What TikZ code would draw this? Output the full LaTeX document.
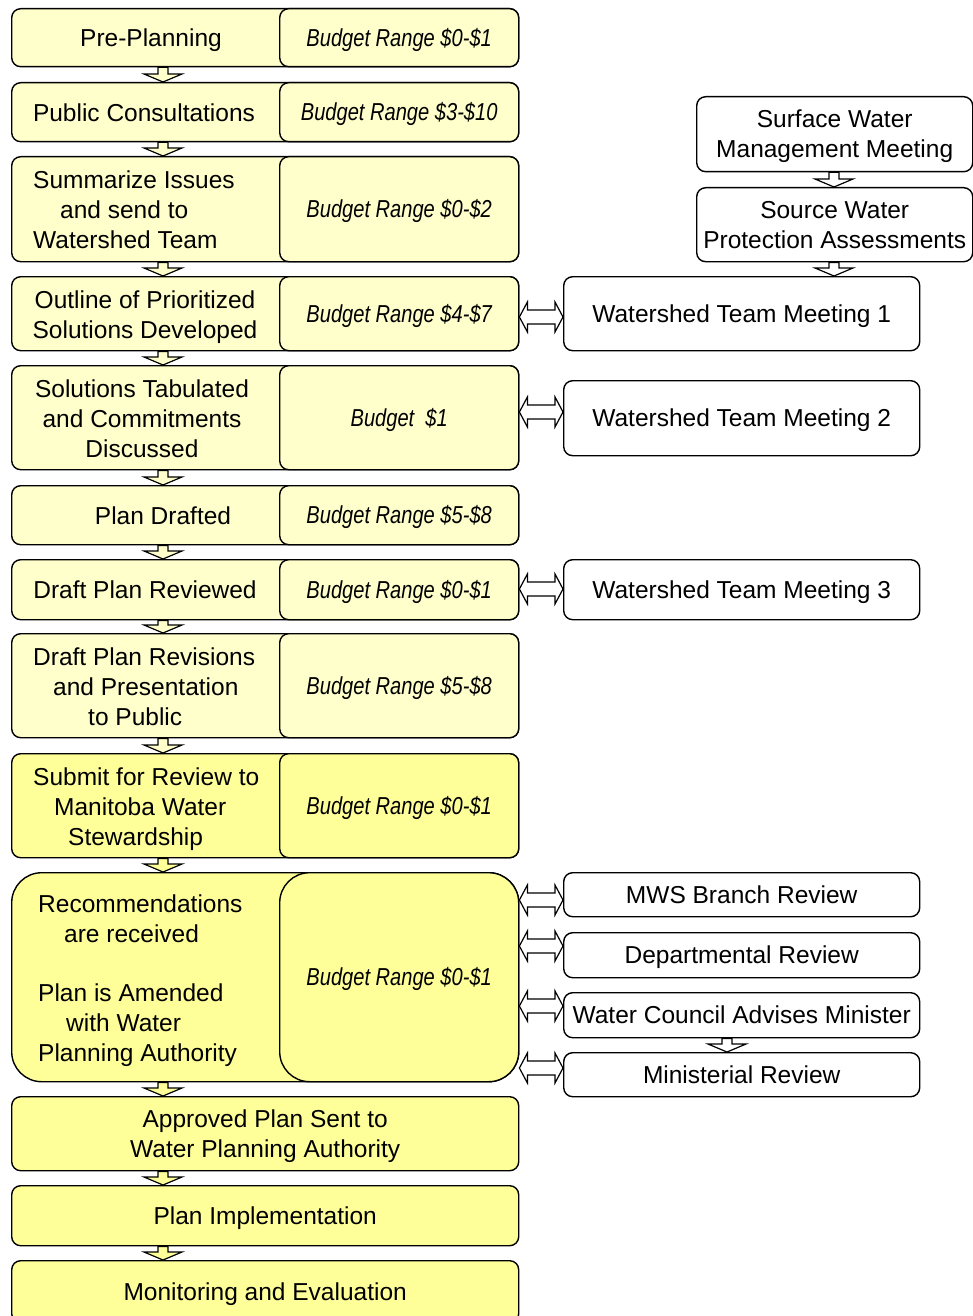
\documentclass[tikz,border=0pt]{standalone}
\usepackage{fontspec}
\setmainfont{Liberation Sans}
\newfontfamily\budgetfont[FakeStretch=0.82]{Liberation Sans}
\usetikzlibrary{calc}
\definecolor{pale}{RGB}{255,255,204}
\definecolor{bright}{RGB}{255,255,153}
\newcommand\dgmfont{\fontsize{24.5pt}{30pt}\selectfont}
\newcommand\dgmbudget{\budgetfont\itshape\fontsize{24.5pt}{30pt}\selectfont}
% text blocks whose cap height is centred on the node centre
\newcommand\ctext[1]{\begin{tabular}{@{}c@{}}\rule{0pt}{26.5pt}#1\end{tabular}}
\newcommand\ltext[1]{\begin{tabular}{@{}l@{}}\rule{0pt}{26.5pt}#1\end{tabular}}
% vertical block arrow: fill, source, target, x
\newcommand\varr[4]{%
  \path[arrowst, fill=#1] let \p1=(#2.south), \p2=(#3.north) in
   ({#4pt-5pt},\y1) -- ({#4pt+5pt},\y1) -- ({#4pt+5pt},{\y2+8pt}) -- ({#4pt+19pt},{\y2+8pt})
   -- ({#4pt},\y2) -- ({#4pt-19pt},{\y2+8pt}) -- ({#4pt-5pt},{\y2+8pt}) -- cycle;}
% horizontal double block arrow: source, target, y
\newcommand\harr[3]{%
  \path[arrowst, fill=white] let \p1=(#1.east), \p2=(#2.west) in
   (\x1,{#3pt}) -- ({\x1+8pt},{#3pt+15pt}) -- ({\x1+8pt},{#3pt+7pt}) -- ({\x2-8pt},{#3pt+7pt})
   -- ({\x2-8pt},{#3pt+15pt}) -- (\x2,{#3pt}) -- ({\x2-8pt},{#3pt-15pt}) -- ({\x2-8pt},{#3pt-7pt})
   -- ({\x1+8pt},{#3pt-7pt}) -- ({\x1+8pt},{#3pt-15pt}) -- cycle;}
\begin{document}
\begin{tikzpicture}[x=1pt,y=1pt,
  box/.style={draw=black, line width=1.4pt, rounded corners=9pt, inner sep=0pt,
     anchor=north west, font=\dgmfont},
  rowbox/.style={box, minimum width=507pt},
  budgetbox/.style={box, minimum width=239pt, font=\dgmbudget},
  rightbox/.style={box, fill=white, minimum width=356pt},
  txt/.style={inner sep=0pt, font=\dgmfont},
  ltxt/.style={txt, anchor=west},
  arrowst/.style={draw=black, line width=1.2pt, line join=miter}]
\useasboundingbox (0,0) rectangle (973,-1316);
\clip (0,0) rectangle (973,-1316);
% left column
\node[rowbox, fill=pale, minimum height=58pt] (r1) at (11,-8) {};
\node[budgetbox, fill=pale, minimum height=58pt] (b1) at (279,-8) {\ctext{Budget Range \$0-\$1}};
\node[txt] (t1) at (151,-38) {\ctext{Pre-Planning}};

\node[rowbox, fill=pale, minimum height=59pt] (r2) at (11,-82) {};
\node[budgetbox, fill=pale, minimum height=59pt] (b2) at (279,-82) {\ctext{Budget Range \$3-\$10}};
\node[txt] (t2) at (144,-113) {\ctext{Public Consultations}};

\node[rowbox, fill=pale, minimum height=105pt] (r3) at (11,-156) {};
\node[budgetbox, fill=pale, minimum height=105pt] (b3) at (279,-156) {\ctext{Budget Range \$0-\$2}};
\node[ltxt] (t3) at (33,-210) {\ltext{Summarize Issues\\\hspace*{27pt}and send to\\Watershed Team}};

\node[rowbox, fill=pale, minimum height=74pt] (r4) at (11,-276) {};
\node[budgetbox, fill=pale, minimum height=74pt] (b4) at (279,-276) {\ctext{Budget Range \$4-\$7}};
\node[txt] (t4) at (145,-314.5) {\ctext{Outline of Prioritized\\Solutions Developed}};

\node[rowbox, fill=pale, minimum height=104pt] (r5) at (11,-365) {};
\node[budgetbox, fill=pale, minimum height=104pt] (b5) at (279,-365) {\ctext{Budget~~\$1}};
\node[txt] (t5) at (142,-418.5) {\ctext{Solutions Tabulated\\and Commitments\\Discussed}};

\node[rowbox, fill=pale, minimum height=59pt] (r6) at (11,-485) {};
\node[budgetbox, fill=pale, minimum height=59pt] (b6) at (279,-485) {\ctext{Budget Range \$5-\$8}};
\node[txt] (t6) at (163,-516) {\ctext{Plan Drafted}};

\node[rowbox, fill=pale, minimum height=60pt] (r7) at (11,-559) {};
\node[budgetbox, fill=pale, minimum height=60pt] (b7) at (279,-559) {\ctext{Budget Range \$0-\$1}};
\node[txt] (t7) at (145,-590) {\ctext{Draft Plan Reviewed}};

\node[rowbox, fill=pale, minimum height=104pt] (r8) at (11,-633) {};
\node[budgetbox, fill=pale, minimum height=104pt] (b8) at (279,-633) {\ctext{Budget Range \$5-\$8}};
\node[ltxt] (t8) at (33,-687) {\ltext{Draft Plan Revisions\\\hspace*{20pt}and Presentation\\\hspace*{55pt}to Public}};

\node[rowbox, fill=bright, minimum height=104pt] (r9) at (11,-753) {};
\node[budgetbox, fill=bright, minimum height=104pt] (b9) at (279,-753) {\ctext{Budget Range \$0-\$1}};
\node[ltxt] (t9) at (33,-806.5) {\ltext{Submit for Review to\\\hspace*{21pt}Manitoba Water\\\hspace*{35pt}Stewardship}};

\node[rowbox, fill=bright, minimum height=209pt, rounded corners=30pt] (r10) at (11,-872) {};
\node[budgetbox, fill=bright, minimum height=209pt, rounded corners=30pt] (b10) at (279,-872) {\ctext{Budget Range \$0-\$1}};
\node[ltxt] (t10) at (38,-978.5) {\ltext{Recommendations\\\hspace*{26pt}are received\\[29pt]Plan is Amended\\\hspace*{28pt}with Water\\Planning Authority}};

\node[rowbox, fill=bright, minimum height=74pt] (r11) at (11,-1096) {\ctext{Approved Plan Sent to\\Water Planning Authority}};
\node[rowbox, fill=bright, minimum height=60pt] (r12) at (11,-1185) {\ctext{Plan Implementation}};
\node[rowbox, fill=bright, minimum height=62pt] (r13) at (11,-1260) {\ctext{Monitoring and Evaluation}};

% right column
\node[box, fill=white, minimum width=276pt, minimum height=75pt] (sw) at (696,-96) {\ctext{Surface Water\\Management Meeting}};
\node[box, fill=white, minimum width=276pt, minimum height=74pt] (sp) at (696,-187) {\ctext{Source Water\\Protection Assessments}};
\node[rightbox, minimum height=74pt] (w1) at (563,-276) {\ctext{Watershed Team Meeting 1}};
\node[rightbox, minimum height=75pt] (w2) at (563,-380) {\ctext{Watershed Team Meeting 2}};
\node[rightbox, minimum height=60pt] (w3) at (563,-559) {\ctext{Watershed Team Meeting 3}};
\node[rightbox, minimum height=44pt] (m1) at (563,-872) {\ctext{MWS Branch Review}};
\node[rightbox, minimum height=45pt] (m2) at (563,-932) {\ctext{Departmental Review}};
\node[rightbox, minimum height=45pt] (m3) at (563,-992) {\ctext{Water Council Advises Minister}};
\node[rightbox, minimum height=44pt] (m4) at (563,-1052) {\ctext{Ministerial Review}};

% vertical arrows, left column
\varr{pale}{r1}{r2}{163}
\varr{pale}{r2}{r3}{163}
\varr{pale}{r3}{r4}{163}
\varr{pale}{r4}{r5}{163}
\varr{pale}{r5}{r6}{163}
\varr{pale}{r6}{r7}{163}
\varr{pale}{r7}{r8}{163}
\varr{pale}{r8}{r9}{163}
\varr{bright}{r9}{r10}{163}
\varr{bright}{r10}{r11}{163}
\varr{bright}{r11}{r12}{163}
\varr{bright}{r12}{r13}{163}
% vertical arrows, right column
\varr{white}{sw}{sp}{834}
\varr{white}{sp}{w1}{834}
\varr{white}{m3}{m4}{727}
% double arrows
\harr{r4}{w1}{-317}
\harr{r5}{w2}{-412}
\harr{r7}{w3}{-589}
\harr{r10}{m1}{-900}
\harr{r10}{m2}{-946}
\harr{r10}{m3}{-1006}
\harr{r10}{m4}{-1068}
\end{tikzpicture}
\end{document}
